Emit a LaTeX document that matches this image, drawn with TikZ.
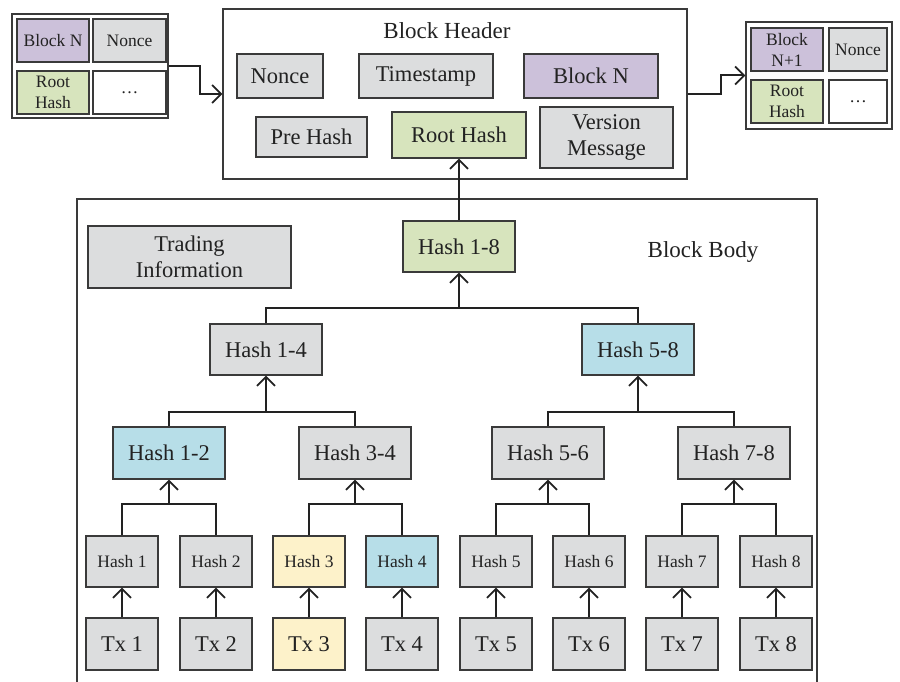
\documentclass[tikz,border=0pt]{standalone}
\usepackage{fontspec}
\setmainfont{Liberation Serif}
\usetikzlibrary{arrows.meta}
\definecolor{cgray}{HTML}{DCDDDE}
\definecolor{cpurple}{HTML}{CCC1DA}
\definecolor{cgreen}{HTML}{D7E4BD}
\definecolor{cblue}{HTML}{B7DEE8}
\definecolor{cyellow}{HTML}{FDF2CA}
\definecolor{cborder}{HTML}{3A3A3A}
\definecolor{ctext}{HTML}{222222}
\tikzset{
  bx/.style={draw=cborder, line width=1.2pt, inner sep=0pt, align=center, text=ctext, fill=cgray},
  big/.style={font=\fontsize{22.5}{26}\selectfont},
  small/.style={font=\fontsize{17.5}{21}\selectfont},
  frame/.style={draw=cborder, line width=1.3pt, inner sep=0pt},
  lbl/.style={text=ctext, inner sep=0pt, font=\fontsize{23}{26}\selectfont},
  conn/.style={draw=ctext, line width=2pt},
  arr/.style={conn, -{Straight Barb[length=9pt,width=18pt,line width=1.8pt]}},
}
\begin{document}
\begin{tikzpicture}[x=1pt,y=-1pt]
\useasboundingbox (0,0) rectangle (900,682);
% top-left previous block
\node[frame, minimum width=156, minimum height=104] (lb) at (90,66) {};
\node[bx, small, fill=cpurple, minimum width=72, minimum height=43] (lbn) at (53,40.5) {Block N};
\node[bx, small, minimum width=73, minimum height=43] (lno) at (129.5,40.5) {Nonce};
\node[bx, small, fill=cgreen, minimum width=72, minimum height=43] (lrh) at (53,92.5) {Root\\Hash};
\node[bx, small, fill=white, minimum width=73, minimum height=43] (ldots) at (129.5,92.5) {\dots};
% header
\node[frame, minimum width=464, minimum height=170] (hd) at (455,94) {};
\node[lbl] (hdt) at (447,31) {Block Header};
\node[bx, big, minimum width=86, minimum height=44] (hno) at (280,76) {Nonce};
\node[bx, big, minimum width=134, minimum height=44] (hts) at (426,76) {Timestamp};
\node[bx, big, fill=cpurple, minimum width=134, minimum height=44] (hbn) at (591,76) {Block N};
\node[bx, big, minimum width=111, minimum height=40] (hph) at (311.5,137) {Pre Hash};
\node[bx, big, fill=cgreen, minimum width=134, minimum height=46] (root) at (459,135) {Root Hash};
\node[bx, big, minimum width=133, minimum height=61] (hvm) at (606.5,137.5) {Version\\Message};
% right next block
\node[frame, minimum width=146, minimum height=107] (rb) at (819,75.5) {};
\node[bx, small, fill=cpurple, minimum width=72, minimum height=43] (rbn) at (787,49.5) {Block\\N+1};
\node[bx, small, minimum width=58, minimum height=43] (rno) at (858,49.5) {Nonce};
\node[bx, small, fill=cgreen, minimum width=72, minimum height=43] (rrh) at (787,101.5) {Root\\Hash};
\node[bx, small, fill=white, minimum width=58, minimum height=43] (rdots) at (858,101.5) {\dots};
% links between blocks
\coordinate (la) at (200,66);
\coordinate (ra) at (721,94);
\draw[arr] (lb.east) -- (la) |- (hd.west);
\draw[arr] (hd.east) -- (ra) |- (rb.west);
% block body frame (open at the bottom)
\coordinate (bbl) at (77,682);
\coordinate (bbtl) at (77,199);
\coordinate (bbtr) at (817,199);
\coordinate (bbr) at (817,682);
\draw[draw=cborder, line width=1.3pt] (bbl) -- (bbtl) -- (bbtr) -- (bbr);
\node[bx, big, minimum width=203, minimum height=62] (ti) at (189.5,257) {Trading\\Information};
\node[lbl] (bbt) at (703,252) {Block Body};
% merkle tree
\node[bx, big, fill=cgreen, minimum width=112, minimum height=51] (h18) at (459,246.5) {Hash 1-8};
\node[bx, big, minimum width=112, minimum height=51] (h14) at (266,349.5) {Hash 1-4};
\node[bx, big, fill=cblue, minimum width=112, minimum height=51] (h58) at (638,349.5) {Hash 5-8};
\node[bx, big, fill=cblue, minimum width=112, minimum height=52] (h12) at (169,453) {Hash 1-2};
\node[bx, big, minimum width=112, minimum height=52] (h34) at (355,453) {Hash 3-4};
\node[bx, big, minimum width=112, minimum height=52] (h56) at (548,453) {Hash 5-6};
\node[bx, big, minimum width=112, minimum height=52] (h78) at (734,453) {Hash 7-8};
\foreach \i/\x/\c in {1/122/cgray,2/216/cgray,3/309/cyellow,4/402/cblue,5/496/cgray,6/589/cgray,7/682/cgray,8/776/cgray}{
  \node[bx, small, fill=\c, minimum width=72, minimum height=51] (h\i) at (\x,561.5) {Hash \i};
}
\foreach \i/\x/\c in {1/122/cgray,2/216/cgray,3/309/cyellow,4/402/cgray,5/496/cgray,6/589/cgray,7/682/cgray,8/776/cgray}{
  \node[bx, big, fill=\c, minimum width=72, minimum height=52] (tx\i) at (\x,644) {Tx \i};
  \draw[arr] (tx\i.north) -- (h\i.south);
}
% hubs
\coordinate (hubA) at (459,308);
\coordinate (hubB) at (266,412);
\coordinate (hubC) at (638,412);
\coordinate (hub12) at (169,504);
\coordinate (hub34) at (355,504);
\coordinate (hub56) at (548,504);
\coordinate (hub78) at (734,504);
\draw[arr] (h18.north) -- (root.south);
\draw[conn] (h14.north) |- (hubA) -| (h58.north);
\draw[arr] (hubA) -- (h18.south);
\draw[conn] (h12.north) |- (hubB) -| (h34.north);
\draw[arr] (hubB) -- (h14.south);
\draw[conn] (h56.north) |- (hubC) -| (h78.north);
\draw[arr] (hubC) -- (h58.south);
\draw[conn] (h1.north) |- (hub12) -| (h2.north);
\draw[arr] (hub12) -- (h12.south);
\draw[conn] (h3.north) |- (hub34) -| (h4.north);
\draw[arr] (hub34) -- (h34.south);
\draw[conn] (h5.north) |- (hub56) -| (h6.north);
\draw[arr] (hub56) -- (h56.south);
\draw[conn] (h7.north) |- (hub78) -| (h8.north);
\draw[arr] (hub78) -- (h78.south);
\end{tikzpicture}
\end{document}
